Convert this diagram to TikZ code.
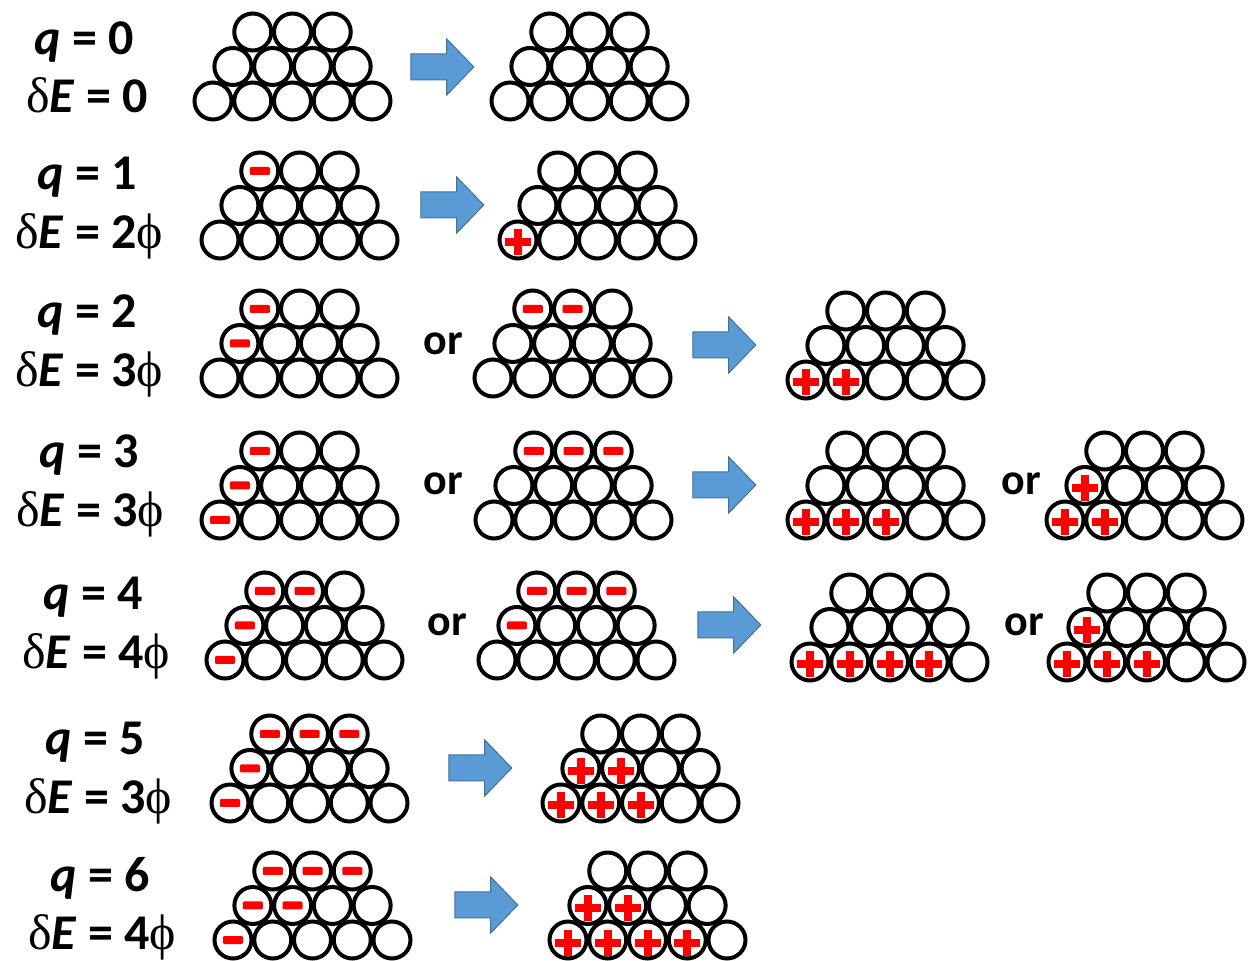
\documentclass[tikz,border=0pt]{standalone}
\usepackage{fontspec}
\setmainfont{Carlito}
\newfontfamily\griego{Liberation Serif}
\usetikzlibrary{shapes.arrows}
\definecolor{flechaazul}{HTML}{5B9BD5}
\definecolor{flechaborde}{HTML}{41719C}
\definecolor{carga}{HTML}{FF0000}
\tikzset{
  esfera/.style={circle,draw=black,line width=2pt,inner sep=0pt,minimum size=18.5pt},
  flecha/.style={single arrow,fill=flechaazul,draw=flechaborde,line width=0.5pt,inner xsep=0pt,inner ysep=0pt,minimum height=31.5pt,single arrow head extend=7.5pt,single arrow tip angle=92},
  etiqueta/.style={font=\fontsize{25}{30}\selectfont\bfseries,inner sep=0pt,anchor=base},
  conector/.style={font=\fontsize{22}{26}\selectfont\bfseries,inner sep=0pt,anchor=base},
  menos/.pic={\fill[carga,rounded corners=0.6pt] (-10,-4) rectangle (10,4);},
  mas/.pic={\fill[carga] (-13,-1.5) rectangle (13,6.5); \fill[carga] (-4,-10.5) rectangle (4,15.5);},
}
% pila de 12 esferas: nombre, x e y del centro abajo a la izquierda
\newcommand{\pila}[3]{%
  \foreach \i in {1,...,5}{\node[esfera] (#1a\i) at ({#2+39.75*(\i-1)},#3) {};}
  \foreach \i in {1,...,4}{\node[esfera] (#1b\i) at ({#2+19.9+39.75*(\i-1)},{#3-34.5}) {};}
  \foreach \i in {1,...,3}{\node[esfera] (#1c\i) at ({#2+39.75*\i},{#3-69}) {};}
}
\newcommand{\dd}{{\griego\mdseries δ}}
\newcommand{\ff}{{\griego\mdseries ϕ}}
\newcommand{\cuerpo}{\rule{0pt}{12.5pt}}

\begin{document}
\begin{tikzpicture}[x=0.5pt,y=-0.5pt]
\useasboundingbox (0,0) rectangle (1248,961);
% etiquetas
\node[etiqueta] (q0) at (84,55) {\textit{q} = 0};
\node[etiqueta] (e0) at (87,113) {\dd\textit{E} = 0};
\node[etiqueta] (q1) at (87,190) {\textit{q} = 1};
\node[etiqueta] (e1) at (89,249) {\dd\textit{E} = 2\ff};
\node[etiqueta] (q2) at (87,328) {\textit{q} = 2};
\node[etiqueta] (e2) at (89,387) {\dd\textit{E} = 3\ff};
\node[etiqueta] (q3) at (89,468) {\textit{q} = 3};
\node[etiqueta] (e3) at (90,527) {\dd\textit{E} = 3\ff};
\node[etiqueta] (q4) at (93,610) {\textit{q} = 4};
\node[etiqueta] (e4) at (96,669) {\dd\textit{E} = 4\ff};
\node[etiqueta] (q5) at (95,755) {\textit{q} = 5};
\node[etiqueta] (e5) at (98,814) {\dd\textit{E} = 3\ff};
\node[etiqueta] (q6) at (100,892) {\textit{q} = 6};
\node[etiqueta] (e6) at (102,950) {\dd\textit{E} = 4\ff};
% q = 0
\pila{p0a}{213}{101}
\node[flecha] (f0) at (436,67) {\cuerpo};
\pila{p0b}{510}{101}
% q = 1
\pila{p1a}{220}{240}
\pic at (p1ac1) {menos};
\node[flecha] (f1) at (446,205) {\cuerpo};
\pila{p1b}{518}{240}
\pic at (p1ba1) {mas};
% q = 2
\pila{p2a}{220}{378}
\foreach \k in {c1,b1} \pic at (p2a\k) {menos};
\node[conector] (o2) at (443,355) {or};
\pila{p2b}{493}{378}
\foreach \k in {c1,c2} \pic at (p2b\k) {menos};
\node[flecha] (f2) at (718,345) {\cuerpo};
\pila{p2c}{806}{380}
\foreach \k in {a1,a2} \pic at (p2c\k) {mas};
% q = 3
\pila{p3a}{220}{520}
\foreach \k in {c1,b1,a1} \pic at (p3a\k) {menos};
\node[conector] (o3a) at (443,495) {or};
\pila{p3b}{494}{520}
\foreach \k in {c1,c2,c3} \pic at (p3b\k) {menos};
\node[flecha] (f3) at (718,485) {\cuerpo};
\pila{p3c}{806}{520}
\foreach \k in {a1,a2,a3} \pic at (p3c\k) {mas};
\node[conector] (o3b) at (1021,495) {or};
\pila{p3d}{1065}{520}
\foreach \k in {b1,a1,a2} \pic at (p3d\k) {mas};
% q = 4
\pila{p4a}{225}{660}
\foreach \k in {c1,c2,b1,a1} \pic at (p4a\k) {menos};
\node[conector] (o4a) at (447,636) {or};
\pila{p4b}{497}{660}
\foreach \k in {c1,c2,c3,b1} \pic at (p4b\k) {menos};
\node[flecha] (f4) at (723,625) {\cuerpo};
\pila{p4c}{810}{662}
\foreach \k in {a1,a2,a3,a4} \pic at (p4c\k) {mas};
\node[conector] (o4b) at (1024,636) {or};
\pila{p4d}{1067}{662}
\foreach \k in {b1,a1,a2,a3} \pic at (p4d\k) {mas};
% q = 5
\pila{p5a}{230}{803}
\foreach \k in {c1,c2,c3,b1,a1} \pic at (p5a\k) {menos};
\node[flecha] (f5) at (474,768) {\cuerpo};
\pila{p5b}{561}{803}
\foreach \k in {b1,b2,a1,a2,a3} \pic at (p5b\k) {mas};
% q = 6
\pila{p6a}{233}{940}
\foreach \k in {c1,c2,c3,b1,b2,a1} \pic at (p6a\k) {menos};
\node[flecha] (f6) at (480,905) {\cuerpo};
\pila{p6b}{568}{940}
\foreach \k in {b1,b2,a1,a2,a3,a4} \pic at (p6b\k) {mas};
\end{tikzpicture}
\end{document}
